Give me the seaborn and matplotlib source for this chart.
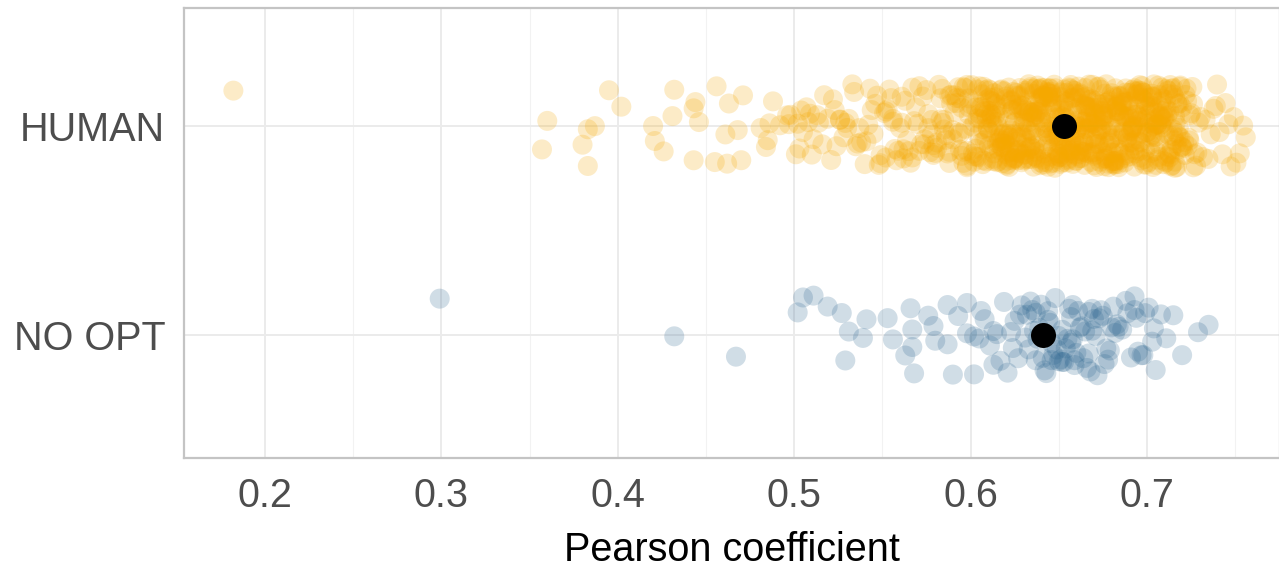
import numpy as np
import pandas as pd
import matplotlib
matplotlib.use("Agg")
import matplotlib.pyplot as plt
from matplotlib.ticker import MultipleLocator
import seaborn as sns

categories = ["HUMAN", "NO OPT"]

# HUMAN: sparse left tail
human_tail = [
    0.182, 0.357, 0.360, 0.380, 0.383, 0.383, 0.387, 0.395, 0.402, 0.420,
    0.421, 0.426, 0.431, 0.432, 0.443, 0.443, 0.444, 0.446, 0.455, 0.456,
    0.461, 0.462, 0.463, 0.468, 0.470, 0.471, 0.481, 0.484, 0.485, 0.486,
    0.488, 0.492, 0.496, 0.497, 0.498,
]

# HUMAN: medium-density body (0.50 - 0.60)
human_mid = [
    0.501, 0.503, 0.504, 0.505, 0.507, 0.508, 0.509, 0.511, 0.513, 0.514,
    0.516, 0.519, 0.521, 0.522, 0.524, 0.526, 0.526, 0.528, 0.530, 0.531,
    0.533, 0.534, 0.536, 0.537, 0.538, 0.540, 0.541, 0.543, 0.544, 0.545,
    0.546, 0.548, 0.549, 0.549,
    0.502, 0.510, 0.517, 0.523, 0.529, 0.535, 0.542, 0.547,
    0.551, 0.552, 0.553, 0.555, 0.556, 0.556, 0.557, 0.559, 0.560, 0.561,
    0.562, 0.562, 0.564, 0.565, 0.566, 0.567, 0.567, 0.569, 0.570, 0.571,
    0.572, 0.573, 0.574, 0.575, 0.576, 0.577, 0.578, 0.578, 0.579, 0.580,
    0.581, 0.582, 0.583, 0.584, 0.584, 0.585, 0.586, 0.587, 0.588, 0.589,
    0.589, 0.590, 0.591, 0.592, 0.593, 0.594, 0.594, 0.595, 0.596, 0.597,
    0.598, 0.598, 0.599, 0.599,
    0.552, 0.558, 0.563, 0.568, 0.574, 0.579, 0.583, 0.586, 0.588, 0.590,
    0.592, 0.593, 0.595, 0.596, 0.597, 0.598, 0.599, 0.554, 0.561, 0.571,
    0.576, 0.581, 0.585, 0.588, 0.591, 0.594, 0.596, 0.598,
]

# HUMAN: dense core (0.60 - 0.72)
human_core = [
    0.6003, 0.6008, 0.6014, 0.6019, 0.6023, 0.6031, 0.6036, 0.6042, 0.6047, 0.6051,
    0.6058, 0.6062, 0.6066, 0.6071, 0.6075, 0.6079, 0.6083, 0.6088, 0.6091, 0.6094,
    0.6097, 0.6099,
    0.6102, 0.6105, 0.6109, 0.6113, 0.6116, 0.6121, 0.6124, 0.6127, 0.6132, 0.6135,
    0.6139, 0.6142, 0.6146, 0.6149, 0.6153, 0.6157, 0.6161, 0.6164, 0.6168, 0.6171,
    0.6175, 0.6178, 0.6182, 0.6186, 0.6189, 0.6193, 0.6196, 0.6199,
    0.6201, 0.6204, 0.6207, 0.6211, 0.6214, 0.6217, 0.6219, 0.6223, 0.6226, 0.6229,
    0.6232, 0.6235, 0.6238, 0.6241, 0.6244, 0.6248, 0.6251, 0.6254, 0.6257, 0.6261,
    0.6264, 0.6267, 0.6271, 0.6274, 0.6277, 0.6281, 0.6284, 0.6287, 0.6291, 0.6294,
    0.6296, 0.6299,
    0.6302, 0.6305, 0.6308, 0.6311, 0.6313, 0.6316, 0.6319, 0.6322, 0.6325, 0.6328,
    0.6331, 0.6334, 0.6337, 0.6339, 0.6342, 0.6345, 0.6348, 0.6351, 0.6354, 0.6357,
    0.6359, 0.6362, 0.6365, 0.6368, 0.6371, 0.6374, 0.6377, 0.6379, 0.6382, 0.6385,
    0.6389, 0.6392, 0.6395, 0.6398,
    0.6401, 0.6404, 0.6406, 0.6409, 0.6412, 0.6414, 0.6417, 0.6419, 0.6422, 0.6425,
    0.6428, 0.6431, 0.6433, 0.6436, 0.6439, 0.6442, 0.6444, 0.6447, 0.6450, 0.6453,
    0.6456, 0.6458, 0.6461, 0.6464, 0.6467, 0.6469, 0.6472, 0.6475, 0.6478, 0.6481,
    0.6483, 0.6486, 0.6489, 0.6492, 0.6495, 0.6498,
    0.6501, 0.6503, 0.6506, 0.6509, 0.6512, 0.6514, 0.6517, 0.6519, 0.6522, 0.6525,
    0.6528, 0.6531, 0.6533, 0.6536, 0.6539, 0.6542, 0.6544, 0.6547, 0.6550, 0.6553,
    0.6556, 0.6558, 0.6561, 0.6564, 0.6567, 0.6569, 0.6572, 0.6575, 0.6578, 0.6581,
    0.6583, 0.6586, 0.6589, 0.6592, 0.6595, 0.6598,
    0.6601, 0.6603, 0.6606, 0.6609, 0.6612, 0.6614, 0.6617, 0.6619, 0.6622, 0.6625,
    0.6628, 0.6631, 0.6633, 0.6636, 0.6639, 0.6642, 0.6644, 0.6647, 0.6650, 0.6653,
    0.6656, 0.6658, 0.6661, 0.6664, 0.6667, 0.6669, 0.6672, 0.6675, 0.6678, 0.6681,
    0.6683, 0.6686, 0.6689, 0.6692, 0.6695, 0.6698,
    0.6701, 0.6703, 0.6706, 0.6709, 0.6712, 0.6714, 0.6717, 0.6719, 0.6722, 0.6725,
    0.6728, 0.6731, 0.6733, 0.6736, 0.6739, 0.6742, 0.6744, 0.6747, 0.6750, 0.6753,
    0.6756, 0.6758, 0.6761, 0.6764, 0.6767, 0.6769, 0.6772, 0.6775, 0.6778, 0.6781,
    0.6783, 0.6786, 0.6789, 0.6792, 0.6795, 0.6798,
    0.6801, 0.6804, 0.6807, 0.6810, 0.6813, 0.6816, 0.6819, 0.6822, 0.6825, 0.6828,
    0.6831, 0.6834, 0.6837, 0.6839, 0.6842, 0.6845, 0.6848, 0.6851, 0.6854, 0.6857,
    0.6859, 0.6862, 0.6865, 0.6868, 0.6871, 0.6874, 0.6877, 0.6880, 0.6883, 0.6886,
    0.6891, 0.6894, 0.6896, 0.6898,
    0.6902, 0.6905, 0.6908, 0.6911, 0.6914, 0.6917, 0.6920, 0.6923, 0.6926, 0.6929,
    0.6932, 0.6935, 0.6938, 0.6941, 0.6944, 0.6947, 0.6950, 0.6953, 0.6956, 0.6959,
    0.6962, 0.6965, 0.6968, 0.6971, 0.6974, 0.6977, 0.6980, 0.6984, 0.6988, 0.6991,
    0.6995, 0.6998,
    0.7002, 0.7005, 0.7009, 0.7012, 0.7015, 0.7019, 0.7022, 0.7025, 0.7029, 0.7032,
    0.7035, 0.7039, 0.7042, 0.7045, 0.7049, 0.7052, 0.7055, 0.7059, 0.7062, 0.7065,
    0.7069, 0.7072, 0.7075, 0.7079, 0.7082, 0.7085, 0.7089, 0.7092, 0.7095, 0.7098,
    0.7103, 0.7107, 0.7111, 0.7116, 0.7121, 0.7125, 0.7129, 0.7133, 0.7138, 0.7142,
    0.7146, 0.7151, 0.7155, 0.7159, 0.7163, 0.7168, 0.7172, 0.7176, 0.7181, 0.7185,
    0.7189, 0.7193, 0.7196, 0.7199,
    0.602, 0.606, 0.609, 0.613, 0.617, 0.620, 0.624, 0.627, 0.631, 0.634,
    0.638, 0.641, 0.645, 0.648, 0.652, 0.655, 0.659, 0.662, 0.666, 0.669,
    0.673, 0.676, 0.680, 0.683, 0.687, 0.690, 0.694, 0.697, 0.701, 0.704,
    0.708, 0.711, 0.715, 0.718,
    0.603, 0.607, 0.611, 0.614, 0.618, 0.621, 0.625, 0.628, 0.632, 0.636,
    0.639, 0.643, 0.646, 0.650, 0.653, 0.657, 0.660, 0.664, 0.667, 0.671,
    0.674, 0.678, 0.681, 0.685, 0.688, 0.692, 0.695, 0.699, 0.702, 0.706,
    0.709, 0.713, 0.716, 0.719,
    0.601, 0.605, 0.608, 0.612, 0.616, 0.619, 0.623, 0.626, 0.630, 0.633,
    0.637, 0.640, 0.644, 0.647, 0.651, 0.654, 0.658, 0.661, 0.665, 0.668,
    0.672, 0.675, 0.679, 0.682, 0.686, 0.689, 0.693, 0.696, 0.700, 0.703,
    0.707, 0.710, 0.714, 0.717,
    0.604, 0.610, 0.615, 0.622, 0.629, 0.635, 0.642, 0.649, 0.656, 0.663,
    0.670, 0.677, 0.684, 0.691, 0.698, 0.705, 0.712, 0.604, 0.611, 0.618,
    0.625, 0.632, 0.639, 0.646, 0.653, 0.660, 0.667, 0.674, 0.681, 0.688,
    0.695, 0.702, 0.709, 0.716,
    0.606, 0.612, 0.618, 0.624, 0.630, 0.636, 0.642, 0.648, 0.654, 0.660,
    0.666, 0.672, 0.678, 0.684, 0.690, 0.696, 0.702, 0.708, 0.714, 0.720,
    0.609, 0.615, 0.621, 0.627, 0.633, 0.639, 0.645, 0.651, 0.657, 0.663,
    0.669, 0.675, 0.681, 0.687, 0.693, 0.699, 0.705, 0.711, 0.717,
    0.607, 0.614, 0.620, 0.626, 0.633, 0.640, 0.646, 0.652, 0.659, 0.665,
    0.671, 0.678, 0.684, 0.691, 0.697, 0.703, 0.710, 0.716,
    0.608, 0.616, 0.623, 0.631, 0.637, 0.644, 0.650, 0.657, 0.664, 0.670,
    0.677, 0.683, 0.690, 0.696, 0.703, 0.709, 0.714, 0.719,
    0.611, 0.619, 0.628, 0.635, 0.643, 0.650, 0.658, 0.665, 0.672, 0.680,
    0.687, 0.694, 0.700, 0.707, 0.713,
    0.613, 0.622, 0.630, 0.638, 0.646, 0.654, 0.662, 0.669, 0.676, 0.684,
    0.692, 0.698, 0.704, 0.711, 0.718,
    0.617, 0.626, 0.634, 0.641, 0.649, 0.656, 0.663, 0.671, 0.679, 0.686,
    0.693, 0.701, 0.708, 0.715,
    0.621, 0.629, 0.636, 0.644, 0.652, 0.659, 0.667, 0.674, 0.682, 0.689,
    0.697, 0.704, 0.712,
]

# HUMAN: right tail
human_right = [
    0.7205, 0.7212, 0.7219, 0.7225, 0.7232, 0.7238, 0.7244, 0.7251, 0.7258, 0.7264,
    0.7271, 0.7279, 0.7286, 0.7294, 0.7215, 0.7228, 0.7241, 0.7262,
    0.7305, 0.7318, 0.7333, 0.7349, 0.7362, 0.7378, 0.7391, 0.7398,
    0.7412, 0.7429, 0.7446, 0.7462, 0.7475, 0.7493,
    0.7508, 0.7527, 0.7546, 0.7561,
]

noopt_values = [
    0.299, 0.432, 0.467, 0.502, 0.505, 0.511, 0.519, 0.527, 0.529, 0.531,
    0.539, 0.541, 0.553, 0.556, 0.563, 0.566, 0.567, 0.567, 0.568, 0.576,
    0.579, 0.580, 0.587, 0.587, 0.590, 0.593, 0.598, 0.598, 0.602, 0.602,
    0.605, 0.606, 0.608, 0.611, 0.613, 0.613, 0.615, 0.617, 0.619, 0.621,
    0.623, 0.625, 0.627, 0.628, 0.629, 0.632, 0.633, 0.634, 0.636, 0.637,
    0.638, 0.640, 0.641, 0.642, 0.644, 0.645, 0.646, 0.647, 0.648, 0.649,
    0.650, 0.651, 0.652, 0.653, 0.655, 0.656, 0.657, 0.657, 0.658, 0.659,
    0.660, 0.661, 0.663, 0.664, 0.665, 0.667, 0.668, 0.669, 0.670, 0.671,
    0.673, 0.675, 0.677, 0.678, 0.680, 0.681, 0.682, 0.684, 0.686, 0.689,
    0.691, 0.693, 0.693, 0.695, 0.697, 0.699, 0.701, 0.703, 0.705, 0.708,
    0.711, 0.715, 0.720, 0.729, 0.735,
    0.624, 0.631, 0.635, 0.639, 0.643, 0.646, 0.650, 0.654, 0.658, 0.662,
    0.666, 0.669, 0.672, 0.676, 0.679, 0.683, 0.688, 0.694, 0.698, 0.704,
    0.637, 0.644, 0.652, 0.659, 0.667, 0.674,
]

summary_values = [0.653, 0.641]

x_ticks = [0.2, 0.3, 0.4, 0.5, 0.6, 0.7]
x_label = "Pearson coefficient"

human_values = human_tail + human_mid + human_core + human_right

df = pd.DataFrame({
    "value": human_values + noopt_values,
    "group": [categories[0]] * len(human_values) + [categories[1]] * len(noopt_values),
})
df_summary = pd.DataFrame({"value": summary_values, "group": categories})

sns.set_theme(style="white")
plt.rcParams["font.family"] = ["Liberation Sans", "DejaVu Sans"]

fig = plt.figure(figsize=(12.79, 5.70), dpi=100)
ax = fig.add_axes([184 / 1279, 112 / 570, 1096 / 1279, 450 / 570])

np.random.seed(7)
sns.stripplot(
    data=df, x="value", y="group", hue="group", order=categories,
    palette={"HUMAN": "#F5A800", "NO OPT": "#2C6690"},
    jitter=0.2, size=14.4, alpha=0.22, linewidth=0, legend=False, ax=ax,
    zorder=3,
)
sns.stripplot(
    data=df_summary, x="value", y="group", order=categories, color="black",
    jitter=False, size=18, linewidth=0, legend=False, ax=ax, zorder=5,
)

ax.set_xlim(0.154, 0.7755)
ax.set_ylim(1.589, -0.565)
ax.set_xticks(x_ticks)
ax.set_xticklabels([f"{t:g}" for t in x_ticks])
ax.xaxis.set_minor_locator(MultipleLocator(0.05))

ax.set_axisbelow(True)
ax.grid(True, which="major", axis="both", color="#EBEBEB", linewidth=1.4, zorder=0)
ax.grid(True, which="minor", axis="x", color="#F2F2F2", linewidth=0.8, zorder=0)
ax.tick_params(axis="x", which="minor", length=0)

for s in ax.spines.values():
    s.set_visible(True)
    s.set_color("#C4C4C4")
    s.set_linewidth(1.6)

ax.tick_params(axis="both", which="major", length=6.5, width=1.1, color="#C4C4C4",
               labelsize=28.5, labelcolor="#4D4D4D", pad=7)
ax.set_ylabel("")
ax.set_xlabel(x_label, fontsize=28.5, color="black", labelpad=12)

fig.savefig("out.png", dpi=100, facecolor="white")
